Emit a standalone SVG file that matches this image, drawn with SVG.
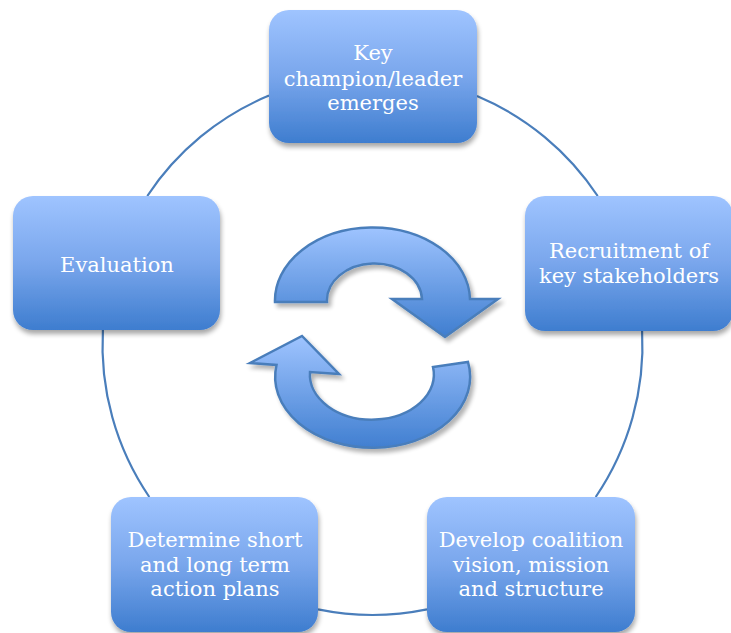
<svg xmlns="http://www.w3.org/2000/svg" width="731" height="633" viewBox="0 0 731 633">
<defs>
<linearGradient id="boxGrad" x1="0" y1="0" x2="0" y2="1">
<stop offset="0" stop-color="#9fc4ff"/>
<stop offset="0.5" stop-color="#79a6ec"/>
<stop offset="1" stop-color="#3e7dcf"/>
</linearGradient>
<linearGradient id="arrowGradTop" gradientUnits="userSpaceOnUse" x1="0" y1="227" x2="0" y2="338">
<stop offset="0" stop-color="#9fc4ff"/>
<stop offset="1" stop-color="#3e7dcf"/>
</linearGradient>
<linearGradient id="arrowGradBot" gradientUnits="userSpaceOnUse" x1="0" y1="336" x2="0" y2="451">
<stop offset="0" stop-color="#9fc4ff"/>
<stop offset="1" stop-color="#3e7dcf"/>
</linearGradient>
<filter id="shadow" x="-10%" y="-10%" width="120%" height="130%">
<feGaussianBlur in="SourceAlpha" stdDeviation="2.5"/>
<feOffset dx="1" dy="4" result="b"/>
<feComponentTransfer><feFuncA type="linear" slope="0.35"/></feComponentTransfer>
<feMerge><feMergeNode/><feMergeNode in="SourceGraphic"/></feMerge>
</filter>
<filter id="ashadow" x="-10%" y="-10%" width="125%" height="130%">
<feGaussianBlur in="SourceAlpha" stdDeviation="2"/>
<feOffset dx="3" dy="4" result="b"/>
<feComponentTransfer><feFuncA type="linear" slope="0.3"/></feComponentTransfer>
<feMerge><feMergeNode/><feMergeNode in="SourceGraphic"/></feMerge>
</filter>
</defs>
<style>
.box{fill:url(#boxGrad);filter:url(#shadow);}
.lbl{font-family:"DejaVu Serif","Liberation Serif",serif;font-size:21px;fill:#ffffff;text-anchor:middle;}
.conn{fill:none;stroke:#4a7ebb;stroke-width:2.2;}
.arrow{stroke:#4a7ebb;stroke-width:2.5;stroke-linejoin:miter;filter:url(#ashadow);}
</style>
<rect width="731" height="633" fill="#ffffff"/>
<g id="connectors">
<path class="conn" d="M477,96 A270,270 0 0 1 597.7,196"/>
<path class="conn" d="M642.1,331 A270,270 0 0 1 595.7,497"/>
<path class="conn" d="M427,609.4 A270,270 0 0 1 318,609.4"/>
<path class="conn" d="M149.3,497 A270,270 0 0 1 102.9,330"/>
<path class="conn" d="M147.3,196 A270,270 0 0 1 269,95.6"/>
</g>
<g id="cycle-arrows">
<path class="arrow" fill="url(#arrowGradTop)" d="M275,302 A97.5,73 0 0 1 470,299 L498,299 L445,337 L392,299 L422,299 A47.5,37 0 0 0 327,302 Z"/>
<path class="arrow" fill="url(#arrowGradBot)" d="M468,362 A97.5,71 0 1 1 276.5,365 L250,363 L302,336 L339,374 L310,372 A62,45 0 1 0 433,367 Z"/>
</g>
<g id="node-key-champion">
<rect class="box" x="269" y="10" width="208" height="133" rx="20"/>
<text class="lbl" x="373" y="60">Key</text>
<text class="lbl" x="373" y="86">champion/leader</text>
<text class="lbl" x="373" y="110">emerges</text>
</g>
<g id="node-recruitment">
<rect class="box" x="525" y="196" width="208" height="135" rx="20"/>
<text class="lbl" x="629" y="258">Recruitment of</text>
<text class="lbl" x="629" y="283">key stakeholders</text>
</g>
<g id="node-develop">
<rect class="box" x="427" y="497" width="208" height="135" rx="20"/>
<text class="lbl" x="531" y="547">Develop coalition</text>
<text class="lbl" x="531" y="572">vision, mission</text>
<text class="lbl" x="531" y="596">and structure</text>
</g>
<g id="node-determine">
<rect class="box" x="111" y="497" width="207" height="135" rx="20"/>
<text class="lbl" x="215" y="547">Determine short</text>
<text class="lbl" x="215" y="572">and long term</text>
<text class="lbl" x="215" y="596">action plans</text>
</g>
<g id="node-evaluation">
<rect class="box" x="13" y="196" width="207" height="134" rx="20"/>
<text class="lbl" x="117" y="272">Evaluation</text>
</g>
</svg>
